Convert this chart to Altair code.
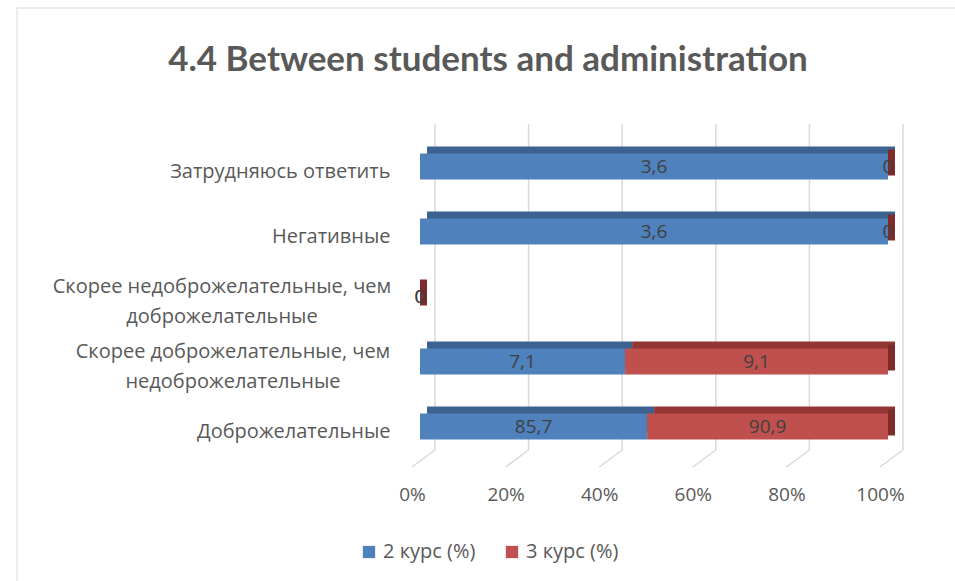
import altair as alt
import pandas as pd

categories = [
    "Затрудняюсь ответить",
    "Негативные",
    "Скорее недоброжелательные, чем доброжелательные",
    "Скорее доброжелательные, чем недоброжелательные",
    "Доброжелательные",
]
series_names = ["2 курс (%)", "3 курс (%)"]
kurs2 = [3.6, 3.6, 0, 7.1, 85.7]
kurs3 = [0, 0, 0, 9.1, 90.9]
ticks = [0, 0.2, 0.4, 0.6, 0.8, 1.0]
title_text = "4.4 Between students and administration"

rows = []
for i, c in enumerate(categories):
    rows.append({"cat": c, "series": series_names[0], "order": 0, "v": kurs2[i]})
    rows.append({"cat": c, "series": series_names[1], "order": 1, "v": kurs3[i]})
df = pd.DataFrame(rows)

FONT = "Open Sans, sans-serif"
GREY = "#595959"
BLUE, RED = "#4f81bd", "#c0504d"
BLUE_D, RED_D = "#3b6290", "#923533"
LBL_SIZE = 20

base = (
    alt.Chart(df)
    .transform_joinaggregate(total="sum(v)", groupby=["cat"])
    .transform_calculate(frac="datum.total > 0 ? datum.v / datum.total : 0")
    .transform_window(cum="sum(frac)", sort=[alt.SortField("order")],
                      groupby=["cat"], frame=[None, 0])
    .transform_calculate(
        start="datum.cum - datum.frac",
        end="datum.cum",
        mid="datum.cum - datum.frac / 2",
        lbl="replace(toString(datum.v), '.', ',')",
    )
)

y_enc = alt.Y(
    "cat:N", sort=categories, title=None,
    scale=alt.Scale(paddingInner=0.6, paddingOuter=0.3),
    axis=alt.Axis(domain=False, ticks=False, grid=False, labelFont=FONT,
                  labelFontSize=LBL_SIZE, labelColor=GREY, labelPadding=30,
                  labelLimit=500, labelOffset=5,
                  # wrapped labels are drawn below as centred two-line text
                  labelExpr="indexof(datum.label, 'чем ') < 0 ? datum.label : ''"),
)
x_scale = alt.Scale(domain=[0, 1], nice=False)
x_axis = alt.Axis(values=ticks, format="%", domain=False, ticks=False, grid=False,
                  labelFont=FONT, labelFontSize=19, labelColor=GREY,
                  labelPadding=26, labelOffset=-8, labelFlush=False)


def wrapped_label(cat, xpos):
    return alt.Chart(pd.DataFrame({"cat": [cat]})).transform_calculate(
        txt="replace(datum.cat, 'чем ', 'чем|')"
    ).mark_text(font=FONT, fontSize=LBL_SIZE, color=GREY, align="center",
                baseline="middle", lineBreak="|", lineHeight=30, dy=-10).encode(
        y=y_enc, x=alt.value(xpos), text="txt:N")


wrap3 = wrapped_label(categories[2], -198)
wrap4 = wrapped_label(categories[3], -187)

grid_df = pd.DataFrame({"t": ticks})
grid_v = alt.Chart(grid_df).mark_rule(color="#d9d9d9", strokeWidth=1.5, xOffset=15).encode(
    x=alt.X("t:Q", scale=x_scale, axis=x_axis, title=None),
    y=alt.value(-10), y2=alt.value(316),
)
grid_d = alt.Chart(grid_df).mark_rule(color="#d9d9d9", strokeWidth=1.5,
                                      xOffset=15, x2Offset=-8).encode(
    x=alt.X("t:Q", scale=x_scale, axis=x_axis, title=None),
    x2="t:Q",
    y=alt.value(316), y2=alt.value(333),
)

back = base.mark_bar(xOffset=7, x2Offset=7, yOffset=-7).encode(
    y=y_enc,
    x=alt.X("start:Q", scale=x_scale, axis=x_axis, title=None),
    x2="end:Q",
    color=alt.condition(f"datum.series === '{series_names[0]}'",
                        alt.value(BLUE_D), alt.value(RED_D)),
)
side = base.transform_filter(f"datum.series === '{series_names[1]}'").mark_bar(
    x2Offset=7, yOffset=-4, color="#7e2c2a").encode(
    y=y_enc,
    x=alt.X("end:Q", scale=x_scale, axis=x_axis, title=None),
    x2="end:Q",
)
front = base.mark_bar().encode(
    y=y_enc,
    x=alt.X("start:Q", scale=x_scale, axis=x_axis, title=None),
    x2="end:Q",
    color=alt.Color("series:N", sort=series_names,
                    scale=alt.Scale(domain=series_names, range=[BLUE, RED]),
                    legend=alt.Legend(title=None, orient="none", direction="horizontal",
                                      legendX=-61, legendY=408, symbolType="square",
                                      symbolSize=150, symbolStrokeWidth=0,
                                      labelFont=FONT, labelFontSize=LBL_SIZE,
                                      labelColor=GREY, columnPadding=26,
                                      symbolOpacity=1)),
)
labels = base.mark_text(font=FONT, fontSize=19, color="#404040").encode(
    y=y_enc,
    x=alt.X("mid:Q", scale=x_scale, axis=x_axis, title=None),
    text="lbl:N",
)
title = alt.Chart(pd.DataFrame({"t": [title_text]})).mark_text(
    font="Lato, Open Sans, sans-serif", fontSize=35, fontWeight="bold", color=GREY,
    align="center", baseline="middle").encode(
    x=alt.value(68), y=alt.value(-74), text="t:N")
border = alt.Chart(pd.DataFrame({"t": [0]})).mark_rect(
    fill=None, stroke="#d9d9d9", strokeWidth=1).encode(
    x=alt.value(-403), x2=alt.value(560), y=alt.value(-126), y2=alt.value(470))

chart = alt.layer(border, grid_v, grid_d, back, side, front, labels,
                  wrap3, wrap4, title).properties(
    width=468, height=325,
    autosize=alt.AutoSizeParams(type="none"),
    padding={"left": 420, "top": 134, "right": 67, "bottom": 122},
    background="white",
).configure_view(stroke=None)

chart.save("out.html", embed_options={"renderer": "svg", "actions": False})
